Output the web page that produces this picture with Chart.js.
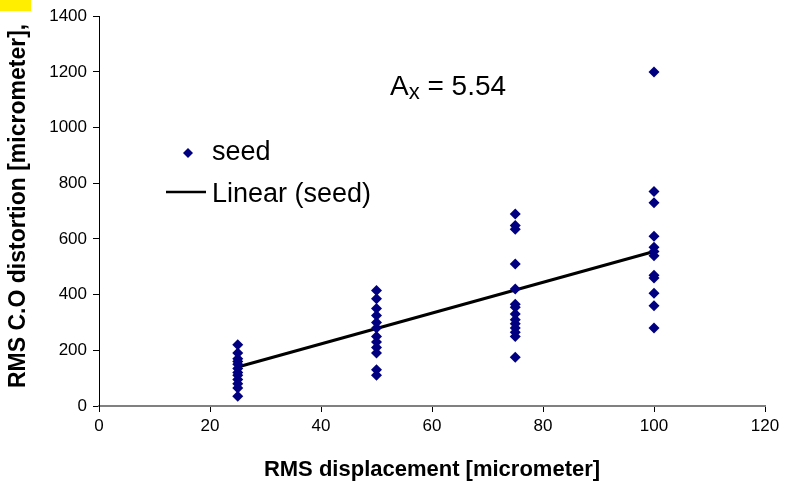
<!DOCTYPE html>
<html>
<head>
<meta charset="utf-8">
<script src="https://cdn.jsdelivr.net/npm/chart.js@4.4.1/dist/chart.umd.min.js"></script>
<style>
  html, body { margin: 0; padding: 0; background: #fff; }
  #wrap { width: 787px; height: 488px; }
</style>
</head>
<body>
<div id="wrap"><canvas id="seedChart"></canvas></div>
<script>
// ---------- DATA ----------
const seedX25 = [220, 190, 170, 160, 150, 135, 120, 110, 95, 80, 65, 35];
const seedX50 = [415, 385, 350, 325, 300, 280, 250, 230, 210, 190, 130, 110];
const seedX75 = [690, 648, 635, 510, 420, 365, 355, 330, 310, 295, 280, 265, 250, 175];
const seedX100 = [1200, 770, 730, 610, 570, 555, 540, 470, 460, 405, 360, 280];
const displacements = [25, 50, 75, 100];
const trendX = [25, 100];
const trendY = [140, 555];
const xTicks = [0, 20, 40, 60, 80, 100, 120];
const yTicks = [0, 200, 400, 600, 800, 1000, 1200, 1400];

// build point list for the scatter
const seedColumns = [seedX25, seedX50, seedX75, seedX100];
const seedPoints = [];
seedColumns.forEach((col, i) => {
    col.forEach(v => seedPoints.push({ x: displacements[i], y: v }));
});
const trendPoints = trendX.map((x, i) => ({ x: x, y: trendY[i] }));

const FONT = "Arial, 'Liberation Sans', sans-serif";
const NAVY = "#000080";

// ---------- extra drawing: titles, legend, annotation ----------
const decorations = {
    id: "decorations",
    afterDraw(chart) {
        const c = chart.ctx;
        const area = chart.chartArea;
        c.save();

        // yellow mark in the corner
        c.fillStyle = "#ffee00";
        c.fillRect(0, 0, 31, 11);

        // y axis title
        c.fillStyle = "#000";
        c.font = "bold 23px " + FONT;
        c.translate(25, 388);
        c.rotate(-Math.PI / 2);
        c.textAlign = "left";
        c.textBaseline = "alphabetic";
        c.fillText("RMS C.O distortion [micrometer],", 0, 0);
        c.setTransform(1, 0, 0, 1, 0, 0);

        // x axis title
        c.font = "bold 22px " + FONT;
        c.textAlign = "center";
        c.fillText("RMS displacement [micrometer]", (area.left + area.right) / 2, 476);

        // legend
        c.textAlign = "left";
        c.font = "27px " + FONT;
        c.fillStyle = NAVY;
        c.beginPath();
        c.moveTo(188, 148); c.lineTo(193, 153); c.lineTo(188, 158); c.lineTo(183, 153);
        c.closePath();
        c.fill();
        c.fillStyle = "#000";
        c.fillText("seed", 212, 160);
        c.strokeStyle = "#000";
        c.lineWidth = 2.5;
        c.beginPath();
        c.moveTo(166, 192); c.lineTo(206, 192);
        c.stroke();
        c.fillText("Linear (seed)", 212, 202);

        // annotation A_x = 5.54
        c.font = "28px " + FONT;
        c.fillText("A", 390, 95);
        let w = c.measureText("A").width;
        c.font = "22px " + FONT;
        c.fillText("x", 390 + w, 99);
        let w2 = c.measureText("x").width;
        c.font = "28px " + FONT;
        c.fillText(" = 5.54", 390 + w + w2, 95);

        c.restore();
    }
};

const ctx = document.getElementById("seedChart").getContext("2d");

new Chart(ctx, {
    type: "scatter",
    data: {
        datasets: [{
            label: "seed",
            data: seedPoints,
            pointStyle: "rectRot",
            pointRadius: 5.5,
            pointHoverRadius: 5.5,
            backgroundColor: NAVY,
            borderColor: NAVY,
            borderWidth: 0
        }, {
            label: "Linear (seed)",
            data: trendPoints,
            showLine: true,
            borderColor: "#000",
            borderWidth: 3,
            pointRadius: 0,
            fill: false
        }]
    },
    options: {
        responsive: true,
        maintainAspectRatio: false,
        animation: false,
        layout: { padding: { top: 13, right: 22, bottom: 0, left: 0 } },
        plugins: {
            legend: { display: false },
            tooltip: { enabled: false }
        },
        scales: {
            x: {
                type: "linear",
                min: 0,
                max: 120,
                afterBuildTicks: s => { s.ticks = xTicks.map(v => ({ value: v })); },
                afterFit: s => { s.height = 82; },
                grid: { drawOnChartArea: false, drawTicks: true, tickLength: 6, color: "#000" },
                border: { display: true, color: "#808080", width: 2 },
                ticks: { color: "#000", font: { family: FONT, size: 17 }, padding: 4, maxRotation: 0, callback: v => String(v) }
            },
            y: {
                min: 0,
                max: 1400,
                afterBuildTicks: s => { s.ticks = yTicks.map(v => ({ value: v })); },
                afterFit: s => { s.width = 99; },
                grid: { drawOnChartArea: false, drawTicks: true, tickLength: 6, color: "#000" },
                border: { display: true, color: "#000", width: 1 },
                ticks: { color: "#000", font: { family: FONT, size: 17 }, padding: 6, callback: v => String(v) }
            }
        }
    },
    plugins: [decorations]
});
</script>
</body>
</html>
